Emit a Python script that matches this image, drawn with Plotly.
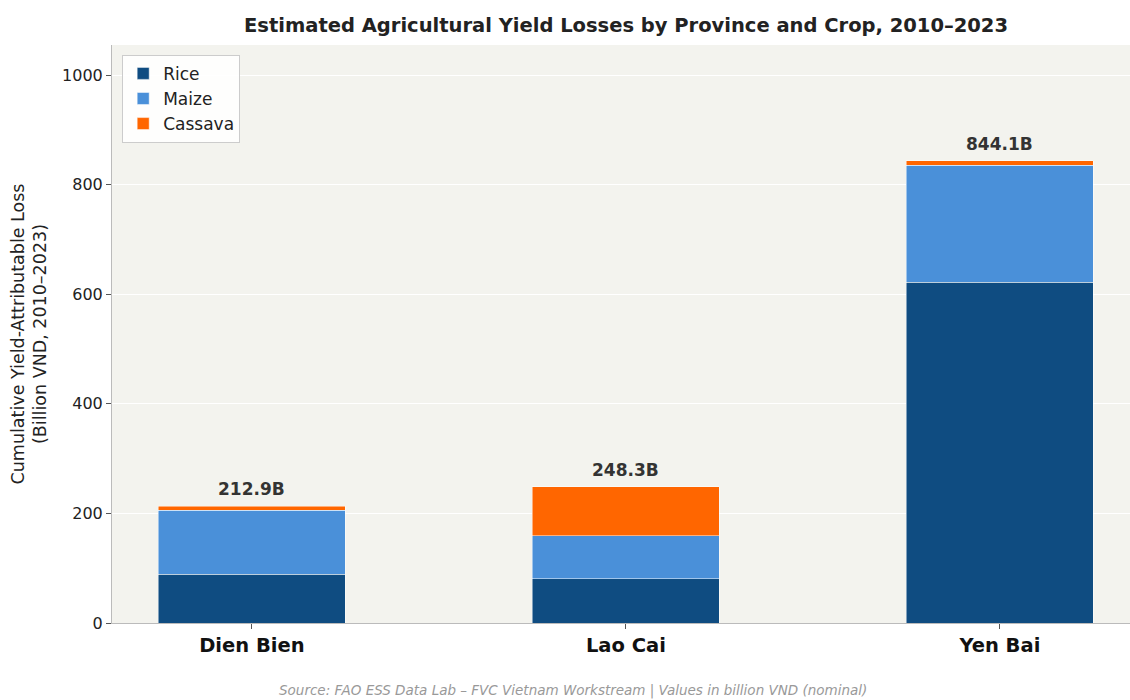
import plotly.graph_objects as go

provinces = ["Dien Bien", "Lao Cai", "Yen Bai"]
rice = [88.9, 80.5, 621.9]
maize = [116.5, 79.2, 213.3]
cassava = [7.5, 88.6, 8.9]
totals = [212.9, 248.3, 844.1]
total_labels = ["212.9B", "248.3B", "844.1B"]
y_ticks = [0, 200, 400, 600, 800, 1000]

colors = {"Rice": "#0f4c81", "Maize": "#4a90d9", "Cassava": "#ff6600"}

fig = go.Figure()
xpos = list(range(len(provinces)))
for name, vals in [("Rice", rice), ("Maize", maize), ("Cassava", cassava)]:
    fig.add_trace(go.Bar(
        x=xpos, y=vals, name=name, width=0.5,
        marker=dict(color=colors[name], line=dict(color="rgba(255,255,255,0.6)", width=0.8)),
    ))

for i, (t, lab) in enumerate(zip(totals, total_labels)):
    fig.add_annotation(x=i, y=t, text="<b>" + lab + "</b>", showarrow=False,
                       yanchor="bottom", yshift=5,
                       font=dict(family="DejaVu Sans", size=17, color="#333333"))

fig.add_annotation(xref="paper", yref="paper", x=0.453, y=-0.135,
                   text="<i>Source: FAO ESS Data Lab – FVC Vietnam Workstream | Values in billion VND (nominal)</i>",
                   showarrow=False, font=dict(family="DejaVu Sans", size=13.5, color="#999999"))

fig.update_layout(
    width=1130, height=700,
    barmode="stack",
    paper_bgcolor="white",
    plot_bgcolor="#f3f3ee",
    margin=dict(l=112, r=0, t=45, b=77),
    title=dict(text="<b>Estimated Agricultural Yield Losses by Province and Crop, 2010–2023</b>",
               x=0.554, xanchor="center", y=0.974, yanchor="top",
               font=dict(family="DejaVu Sans", size=19.5, color="#222222")),
    font=dict(family="DejaVu Sans", size=16, color="#222222"),
    legend=dict(x=0.01, y=0.983, xanchor="left", yanchor="top",
                bgcolor="rgba(255,255,255,0.85)", bordercolor="#cccccc", borderwidth=1,
                font=dict(size=17), traceorder="normal", tracegroupgap=0),
    bargap=0.5,
)
fig.update_xaxes(tickmode="array", tickvals=xpos,
                 ticktext=["<b>" + p + "</b>" for p in provinces],
                 tickfont=dict(size=19.5, color="#111111"),
                 range=[-0.374, 2.348], showgrid=False, showline=True,
                 linecolor="#bbbbbb", ticks="outside", ticklen=5, tickcolor="#555555",
                 zeroline=False)
fig.update_yaxes(range=[0, 1055.1], tickvals=y_ticks, showgrid=True, gridcolor="white",
                 gridwidth=1.2, showline=True, linecolor="#bbbbbb", ticks="outside",
                 ticklen=5, tickcolor="#555555", zeroline=False,
                 tickfont=dict(size=16),
                 title=dict(text="Cumulative Yield-Attributable Loss<br>(Billion VND, 2010–2023)",
                            font=dict(size=17.5), standoff=10))

fig.write_html("out.html")
